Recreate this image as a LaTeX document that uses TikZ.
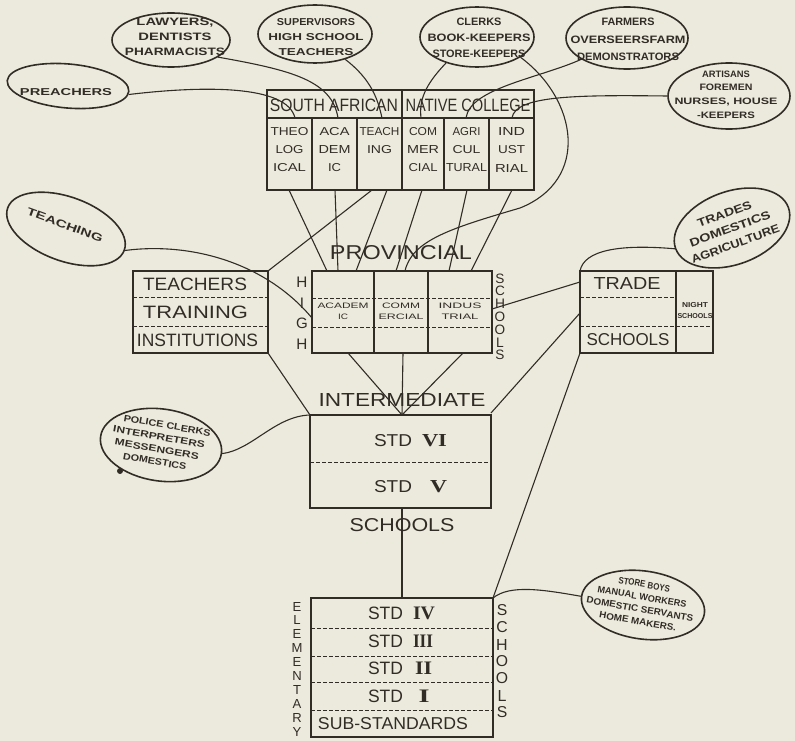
\documentclass[tikz,border=0pt]{standalone}
\usepackage{fontspec}
\usepackage{graphicx}
\setmainfont{Liberation Sans}
\newfontfamily\numfont{Liberation Serif}
\usetikzlibrary{shapes.geometric}
\definecolor{paper}{RGB}{236,234,221}
\definecolor{ink}{RGB}{50,44,38}
\newcommand\T[3]{\resizebox{#1pt}{#2pt}{#3}}
\newcommand\B[3]{\resizebox{#1pt}{#2pt}{\bfseries #3}}
\newcommand\V[2]{\resizebox{!}{#1pt}{#2}}
\newcommand\RN[1]{{\numfont\bfseries #1}}
\begin{document}
\begin{tikzpicture}[x=1pt,y=-1pt,
  frame/.style={draw=ink,line width=1.5pt,inner sep=0pt,outer sep=0pt,anchor=north west},
  sub/.style={draw=ink,line width=1.2pt},
  dsh/.style={draw=ink,line width=1pt,dash pattern=on 3.5pt off 2.5pt},
  conn/.style={draw=ink,line width=1.1pt},
  oval/.style={ellipse,draw=ink,line width=1.6pt,inner sep=0pt},
  lbl/.style={text=ink,inner sep=0pt,align=center},
]
\fill[paper] (0,0) rectangle (795,741);
\useasboundingbox (0,0) rectangle (795,741);

% ---------------- College ----------------
\node[frame,minimum width=267pt,minimum height=100pt] (college) at (267,90) {};
\draw[sub] (267,118) -- (534,118);
\draw[sub] (402,90) -- (402,190);
\foreach \x in {312,357,444,489} \draw[sub] (\x,118) -- (\x,190);
\node[lbl] (saf) at (334,105) {\T{128}{12.5}{SOUTH AFRICAN}};
\node[lbl] (nco) at (468,105) {\T{125}{12.5}{NATIVE COLLEGE}};
\begin{scope}[every node/.style={lbl,font=\fontsize{8}{18}\selectfont}]
\node (cth) at (289.5,150) {\T{38}{8}{THEO}\\\T{28}{8}{LOG}\\\T{33}{8}{ICAL}};
\node (cac) at (334.5,150) {\T{30}{8}{ACA}\\\T{32}{8}{DEM}\\\T{13}{8}{IC}};
\node (cte) at (379.5,141) {\T{40}{8}{TEACH}\\\T{25}{8}{ING}};
\node (cco) at (423,150) {\T{28}{8}{COM}\\\T{32}{8}{MER}\\\T{29}{8}{CIAL}};
\node (cag) at (466.5,150) {\T{28}{8}{AGRI}\\\T{28}{8}{CUL}\\\T{41}{8}{TURAL}};
\node (cin) at (511.5,150) {\T{27}{8}{IND}\\\T{27}{8}{UST}\\\T{33}{8}{RIAL}};
\end{scope}

% ---------------- Provincial high schools ----------------
\node[frame,minimum width=180pt,minimum height=82pt] (prov) at (312,271) {};
\draw[sub] (374,271) -- (374,353);
\draw[sub] (428,271) -- (428,353);
\draw[dsh] (312,298) -- (492,298);
\draw[dsh] (312,327) -- (492,327);
\node[lbl] (provt) at (401,253) {\T{142}{14}{PROVINCIAL}};
\begin{scope}[every node/.style={lbl,font=\fontsize{6}{11}\selectfont}]
\node (pac) at (343,311.5) {\T{51}{5.5}{ACADEM}\\\T{10}{5.5}{IC}};
\node (pco) at (401,311.5) {\T{38}{5.5}{COMM}\\\T{45}{5.5}{ERCIAL}};
\node (pin) at (460,311.5) {\T{43}{5.5}{INDUS}\\\T{37}{5.5}{TRIAL}};
\end{scope}
\foreach \c [count=\i from 0] in {H,I,G,H}
  \node[lbl] (hg\i) at (302,282.5+20.5*\i) {\V{10.5}{\c}};
\foreach \c [count=\i from 0] in {S,C,H,O,O,L,S}
  \node[lbl] (ps\i) at (500,278.5+12.8*\i) {\V{9.5}{\c}};

% ---------------- Teachers training ----------------
\node[frame,minimum width=135pt,minimum height=82pt] (teach) at (133,271) {};
\draw[dsh] (133,297) -- (268,297);
\draw[dsh] (133,326) -- (268,326);
\node[lbl] (tt1) at (195,284) {\T{104}{12.5}{TEACHERS}};
\node[lbl] (tt2) at (195.5,312) {\T{105}{12.5}{TRAINING}};
\node[lbl] (tt3) at (197.5,340) {\T{121}{12.5}{INSTITUTIONS}};

% ---------------- Trade schools ----------------
\node[frame,minimum width=133pt,minimum height=82pt] (trade) at (580,271) {};
\draw[sub] (676,271) -- (676,353);
\draw[dsh] (580,297) -- (676,297);
\draw[dsh] (580,326) -- (713,326);
\node[lbl] (tr1) at (627,283) {\T{67}{12}{TRADE}};
\node[lbl] (tr2) at (628,340) {\T{83}{12}{SCHOOLS}};
\node[lbl,font=\fontsize{5}{10.5}\selectfont] (night) at (695,310.5) {\B{26}{5}{NIGHT}\\\B{35}{5}{SCHOOLS}};

% ---------------- Intermediate ----------------
\node[frame,minimum width=181pt,minimum height=93pt] (inter) at (310,415) {};
\draw[dsh] (310,462) -- (491,462);
\node[lbl] (intt) at (402,400) {\T{167}{13}{INTERMEDIATE}};
\node[lbl] (ints) at (402,525) {\T{105}{13}{SCHOOLS}};
\node[lbl] (s6) at (393,441) {\T{38}{12}{STD}};
\node[lbl] (n6) at (434.5,441) {\T{25}{12}{\RN{VI}}};
\node[lbl] (s5) at (393,487) {\T{38}{12}{STD}};
\node[lbl] (n5) at (438.5,487) {\T{17}{12}{\RN{V}}};

% ---------------- Elementary ----------------
\node[frame,minimum width=182pt,minimum height=139pt] (elem) at (311,598) {};
\foreach \y in {628,656,682,710} \draw[dsh] (311,\y) -- (493,\y);
\node[lbl] (s4) at (385.5,613) {\T{35}{12.5}{STD}};
\node[lbl] (n4) at (424,613) {\T{22}{12.5}{\RN{IV}}};
\node[lbl] (s3) at (385.5,641) {\T{35}{12.5}{STD}};
\node[lbl] (n3) at (423,641) {\T{20}{12.5}{\RN{III}}};
\node[lbl] (s2) at (385.5,668) {\T{35}{12.5}{STD}};
\node[lbl] (n2) at (423.5,668) {\T{17}{12.5}{\RN{II}}};
\node[lbl] (s1) at (385.5,696) {\T{35}{12.5}{STD}};
\node[lbl] (n1) at (424,696) {\T{11}{12.5}{\RN{I}}};
\node[lbl] (sub) at (393,724) {\T{150}{12}{SUB-STANDARDS}};
\foreach \c [count=\i from 0] in {E,L,E,M,E,N,T,A,R,Y}
  \node[lbl] (el\i) at (297,606.5+13.9*\i) {\V{9}{\c}};
\foreach \c [count=\i from 0] in {S,C,H,O,O,L,S}
  \node[lbl] (es\i) at (502,610.5+17*\i) {\V{11}{\c}};

% ---------------- Ovals ----------------
\node[oval,minimum width=118pt,minimum height=54pt] (law) at (171,40) {};
\node[lbl,font=\fontsize{7}{15}\selectfont] (lawt) at (175,37) {\B{77}{7.5}{LAWYERS,}\\\B{73}{7.5}{DENTISTS}\\\B{100}{7.5}{PHARMACISTS}};
\node[oval,minimum width=114pt,minimum height=58pt] (sup) at (315,34) {};
\node[lbl,font=\fontsize{7}{15}\selectfont] (supt) at (316,37) {\B{78}{7}{SUPERVISORS}\\\B{95}{7}{HIGH SCHOOL}\\\B{75}{7}{TEACHERS}};
\node[oval,minimum width=122pt,minimum height=44pt,rotate=-5] (pre) at (68,86) {};
\node[lbl] (pret) at (66,92) {\B{92}{7}{PREACHERS}};
\node[oval,minimum width=114pt,minimum height=60pt] (clk) at (477,37) {};
\node[lbl,font=\fontsize{7}{16}\selectfont] (clkt) at (479,38) {\B{45}{7.5}{CLERKS}\\\B{103}{7.5}{BOOK-KEEPERS}\\\B{93}{7.5}{STORE-KEEPERS}};
\node[oval,minimum width=122pt,minimum height=62pt] (farm) at (627,38) {};
\node[lbl,font=\fontsize{7}{17.5}\selectfont] (farmt) at (628,39.5) {\B{53}{7.5}{FARMERS}\\\B{115}{7.5}{OVERSEERSFARM}\\\B{102}{7.5}{DEMONSTRATORS}};
\node[oval,minimum width=122pt,minimum height=66pt] (art) at (729,96) {};
\node[lbl,font=\fontsize{6}{13.7}\selectfont] (artt) at (726,94.5) {\B{48}{6.5}{ARTISANS}\\\B{53}{6.5}{FOREMEN}\\\B{103}{6.5}{NURSES, HOUSE}\\\B{58}{6.5}{-KEEPERS}};
\node[oval,minimum width=124pt,minimum height=64pt,rotate=-20] (tch) at (66,229) {};
\node[lbl,rotate=-20] (tcht) at (65,225) {\B{80}{7.5}{TEACHING}};
\node[oval,minimum width=120pt,minimum height=73pt,rotate=20] (trd) at (732,228) {};
\node[lbl,rotate=20,font=\fontsize{7}{16}\selectfont] (trdt) at (730,229) {\B{57}{8}{TRADES}\\\B{85}{8}{DOMESTICS}\\\B{93}{8}{AGRICULTURE}};
\node[oval,minimum width=122pt,minimum height=72pt,rotate=-8] (pol) at (161,445) {};
\node[lbl,rotate=-10,font=\fontsize{6}{12.5}\selectfont] (polt) at (158,443) {\hspace{12pt}\B{88}{6.5}{POLICE CLERKS}\\\B{93}{6.5}{INTERPRETERS}\\\B{85}{6.5}{MESSENGERS}\\\B{64}{6.5}{DOMESTICS}};
\fill[ink] (120,471) circle (3);
\node[oval,minimum width=124pt,minimum height=68pt,rotate=-8] (sto) at (643,605) {};
\node[lbl,rotate=-10,font=\fontsize{6}{12.5}\selectfont] (stot) at (641,603) {\B{52}{6.5}{STORE BOYS}\\\B{90}{6.5}{MANUAL WORKERS}\\\B{108}{6.5}{DOMESTIC SERVANTS}\\\B{78}{6.5}{HOME MAKERS.}};

% ---------------- Connection points ----------------
\coordinate (theoT) at (295,118);
\coordinate (acaT) at (338,118);
\coordinate (teachT) at (382,118);
\coordinate (comT) at (421,118);
\coordinate (agriT) at (466,118);
\coordinate (indT) at (512,118);
\coordinate (theoB) at (289,190);
\coordinate (acaB) at (335,190);
\coordinate (teachB) at (387,190);
\coordinate (teachB2) at (372,190);
\coordinate (comB) at (422,190);
\coordinate (agriB) at (467,190);
\coordinate (indB) at (512,190);
\coordinate (p1) at (327,271);
\coordinate (p2) at (338,271);
\coordinate (p3) at (356,271);
\coordinate (p4) at (396,271);
\coordinate (p5) at (405,271);
\coordinate (p6) at (449,271);
\coordinate (p7) at (471,271);
\coordinate (pb1) at (348,353);
\coordinate (pb2) at (403,353);
\coordinate (pb3) at (463,353);
\coordinate (pl) at (312,318);
\coordinate (pr) at (492,309);
\coordinate (it) at (402,415);
\coordinate (itl) at (310,415);
\coordinate (itr) at (491,413);
\coordinate (ib) at (402,508);
\coordinate (ttr) at (268,271);
\coordinate (tbr) at (268,353);
\coordinate (trtl) at (580,271);
\coordinate (trl1) at (580,282);
\coordinate (trl2) at (580,313);
\coordinate (trbl) at (580,353);
\coordinate (et) at (402,598);
\coordinate (etr) at (493,598);

% ---------------- Connectors ----------------
\draw[conn] (pre.-3) .. controls (200,86) and (287,84) .. (theoT);
\draw[conn] (law.-20) .. controls (290,70) and (332,80) .. (acaT);
\draw[conn] (sup.-40) .. controls (372,80) and (378,100) .. (teachT);
\draw[conn] (clk.-140) .. controls (425,85) and (419,100) .. (comT);
\draw[conn] (farm.-155) .. controls (540,78) and (470,88) .. (agriT);
\draw[conn] (art.180) .. controls (580,95) and (515,95) .. (indT);
\draw[conn] (clk.-25) .. controls (578,100) and (590,180) .. (520,208) .. controls (452,228) and (412,240) .. (p5);
\draw[conn] (theoB) -- (p1);
\draw[conn] (acaB) -- (p2);
\draw[conn] (teachB) -- (p3);
\draw[conn] (comB) -- (p4);
\draw[conn] (agriB) -- (p6);
\draw[conn] (indB) -- (p7);
\draw[conn] (teachB2) -- (ttr);
\draw[conn] (pb1) -- (it);
\draw[conn] (pb2) -- (it);
\draw[conn] (pb3) -- (it);
\draw[conn] (tbr) -- (itl);
\draw[conn] (tch.east) .. controls (190,242) and (265,262) .. (pl);
\draw[conn] (pol.east) .. controls (252,450) and (275,416) .. (itl);
\draw[conn] (pr) -- (trl1);
\draw[conn] (trl2) -- (itr);
\draw[conn] (trbl) -- (etr);
\draw[conn] (trtl) .. controls (584,250) and (620,244) .. (trd.west);
\draw[conn] (etr) .. controls (510,584) and (545,590) .. (sto.west);
\draw[conn] (ib) -- (et);
\end{tikzpicture}
\end{document}
